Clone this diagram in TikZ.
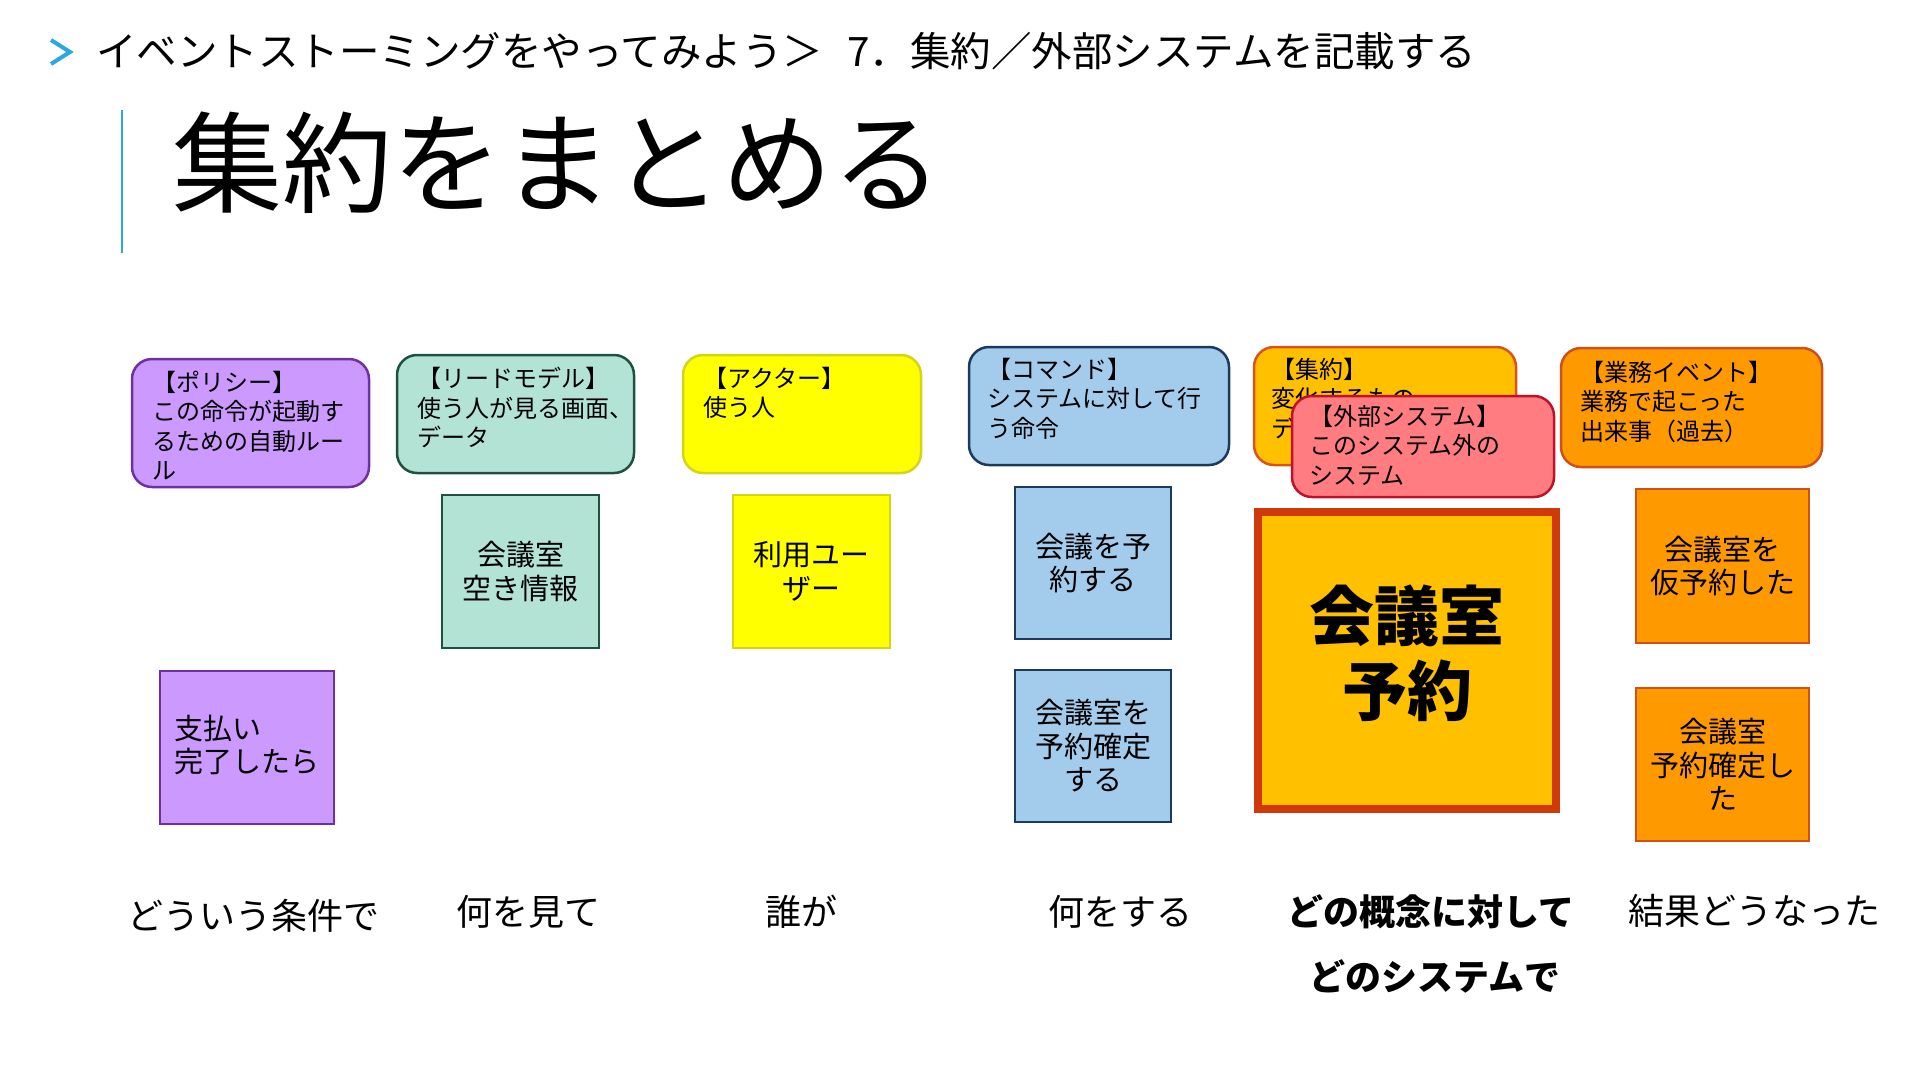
\documentclass[tikz,border=0pt]{standalone}
\usepackage{fontspec}
\setmainfont{Noto Sans CJK JP}
\definecolor{accent}{HTML}{29A9E0}
\definecolor{purplefill}{HTML}{CC99FF}
\definecolor{purpleline}{HTML}{7030A0}
\definecolor{tealfill}{HTML}{B3E3D5}
\definecolor{tealline}{HTML}{1F5040}
\definecolor{yellowfill}{HTML}{FFFF00}
\definecolor{yellowline}{HTML}{D4D41A}
\definecolor{bluefill}{HTML}{A3CBEC}
\definecolor{blueline}{HTML}{1C3A5C}
\definecolor{aggfill}{HTML}{FFC000}
\definecolor{aggline}{HTML}{D9531E}
\definecolor{pinkfill}{HTML}{FF7C80}
\definecolor{pinkline}{HTML}{C0102A}
\definecolor{evfill}{HTML}{FF9900}
\definecolor{evline}{HTML}{D0501A}
\definecolor{bigline}{HTML}{D03A0A}
\tikzset{
  legendbox/.style={rounded corners=20pt, line width=2.5pt, inner sep=0pt},
  legendtext/.style={anchor=north west, align=left, inner sep=0pt, font=\fontsize{24}{29.4}\selectfont},
  sticky/.style={line width=2pt, inner sep=0pt, align=center, font=\fontsize{29}{33.5}\selectfont},
  bottomlabel/.style={inner sep=0pt, font=\fontsize{36}{42}\selectfont},
}
\begin{document}
\begin{tikzpicture}[x=1pt,y=-1pt]
\useasboundingbox (0,0) rectangle (1920,1080);
% header
\draw[accent, line width=4pt] (51,40) -- (70,52) -- (51,64);
\node[anchor=west, inner sep=0pt, font=\fontsize{40.5}{46}\selectfont] (crumb) at (96,51) {イベントストーミングをやってみよう＞\hspace{0.6em}7．集約／外部システムを記載する};
\draw[accent, line width=2.5pt] (122,110) -- (122,253);
\node[anchor=west, inner sep=0pt, font=\fontsize{110}{124}\selectfont] (title) at (172,163) {集約をまとめる};

% legend boxes
\node[legendbox, draw=purpleline, fill=purplefill, minimum width=237pt, minimum height=128pt] (policy) at (250.5,423) {};
\node[legendtext] (policyT) at (152,371) {【ポリシー】\\この命令が起動す\\るための自動ルー\\ル};

\node[legendbox, draw=tealline, fill=tealfill, minimum width=237pt, minimum height=118pt] (readm) at (515.5,414) {};
\node[legendtext] (readmT) at (417,367) {【リードモデル】\\使う人が見る画面、\\データ};

\node[legendbox, draw=yellowline, fill=yellowfill, minimum width=238pt, minimum height=118pt] (actor) at (802,414) {};
\node[legendtext] (actorT) at (703,367) {【アクター】\\使う人};

\node[legendbox, draw=blueline, fill=bluefill, minimum width=260pt, minimum height=118pt] (command) at (1099,406) {};
\node[legendtext] (commandT) at (987,358) {【コマンド】\\システムに対して行\\う命令};

\node[legendbox, draw=aggline, fill=aggfill, minimum width=262pt, minimum height=118pt] (aggregate) at (1385,406) {};
\node[legendtext] (aggregateT) at (1271,358) {【集約】\\変化するもの\\データ};

\node[legendbox, draw=pinkline, fill=pinkfill, minimum width=262pt, minimum height=101pt] (external) at (1423,446.5) {};
\node[legendtext] (externalT) at (1309,405) {【外部システム】\\このシステム外の\\システム};

\node[legendbox, draw=evline, fill=evfill, minimum width=261pt, minimum height=119pt] (event) at (1691.5,407.5) {};
\node[legendtext] (eventT) at (1580,361) {【業務イベント】\\業務で起こった\\出来事（過去）};

% stickies
\node[sticky, draw=purpleline, fill=purplefill, minimum width=174pt, minimum height=153pt] (pay) at (247,747.5) {};
\node[anchor=west, align=left, inner sep=0pt, font=\fontsize{29}{33.5}\selectfont] (payT) at (174,745) {支払い\\完了したら};

\node[sticky, draw=tealline, fill=tealfill, minimum width=157pt, minimum height=153pt] (vacancy) at (520.5,571.5) {会議室\\空き情報};
\node[sticky, draw=yellowline, fill=yellowfill, minimum width=157pt, minimum height=153pt] (user) at (811.5,571.5) {利用ユー\\ザー};
\node[sticky, draw=blueline, fill=bluefill, minimum width=156pt, minimum height=152pt] (cmdA) at (1093,563) {会議を予\\約する};
\node[sticky, draw=blueline, fill=bluefill, minimum width=156pt, minimum height=152pt] (cmdB) at (1093,746) {会議室を\\予約確定\\する};
\node[line width=8pt, draw=bigline, fill=aggfill, minimum width=298pt, minimum height=297pt, inner sep=0pt] (agg) at (1407,660.5) {};
\node[inner sep=0pt, align=center, font=\fontsize{65}{75}\selectfont\bfseries] (aggT) at (1407,653) {会議室\\予約};
\node[sticky, draw=evline, fill=evfill, minimum width=173pt, minimum height=154pt] (evA) at (1722.5,566) {会議室を\\仮予約した};
\node[sticky, draw=evline, fill=evfill, minimum width=173pt, minimum height=153pt] (evB) at (1722.5,764.5) {会議室\\予約確定し\\た};

% bottom labels
\node[bottomlabel] (l1) at (253,916) {どういう条件で};
\node[bottomlabel] (l2) at (528,912) {何を見て};
\node[bottomlabel] (l3) at (801,912) {誰が};
\node[bottomlabel] (l4) at (1120,912) {何をする};
\node[bottomlabel, font=\fontsize{36}{42}\selectfont\bfseries] (l5) at (1431,912) {どの概念に対して};
\node[bottomlabel, font=\fontsize{36}{42}\selectfont\bfseries] (l6) at (1435,976) {どのシステムで};
\node[bottomlabel] (l7) at (1754,911) {結果どうなった};
\end{tikzpicture}
\end{document}
